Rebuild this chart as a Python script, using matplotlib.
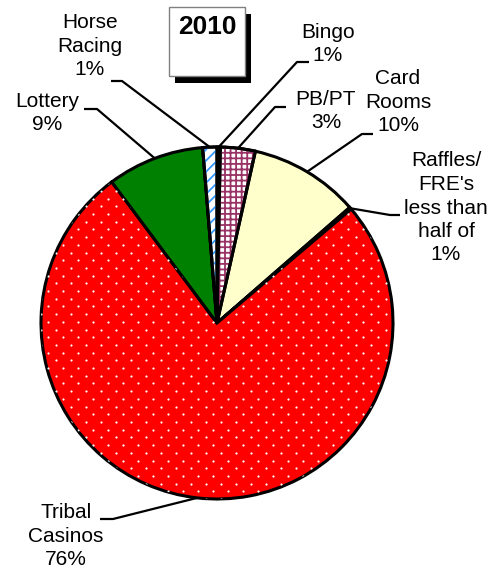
import numpy as np
import matplotlib
matplotlib.use("Agg")
import matplotlib.pyplot as plt
from matplotlib.patches import Wedge, Rectangle

plt.rcParams['font.family'] = ['Liberation Sans', 'DejaVu Sans']
plt.rcParams['hatch.linewidth'] = 1.3

# shares (percent), clockwise from 12 o'clock
names = ["Bingo", "PB/PT", "Card Rooms", "Raffles/FRE's", "Tribal Casinos", "Lottery", "Horse Racing"]
shares = [0.3, 3.2, 10.1, 0.2, 76.0, 8.9, 1.3]
labels = ["Bingo\n1%", "PB/PT\n3%", "Card\nRooms\n10%", "Raffles/\nFRE's\nless than\nhalf of\n1%",
          "Tribal\nCasinos\n76%", "Lottery\n9%", "Horse\nRacing\n1%"]
year = "2010"

fills = ["#9999ff", "white", "#ffffcc", "black", "#ff0000", "#008000", "white"]
hatches = [None, "+++", None, None, None, None, "///"]
hatch_cols = [None, "#993366", None, None, None, None, "#3399ff"]

W, H = 491, 573
def Y(y):
    return H - y

fig = plt.figure(figsize=(W / 100, H / 100), dpi=100)
ax = fig.add_axes([0, 0, 1, 1])

cx, cy, R = 217, Y(323), 176
wedges, _ = ax.pie(shares, colors=fills, startangle=90, counterclock=False,
                   center=(cx, cy), radius=R,
                   wedgeprops=dict(edgecolor='black', linewidth=2.2))
ax.set_xlim(0, W)
ax.set_ylim(0, H)
ax.set_aspect('equal')
ax.axis('off')

# hatch overlays
for w, h, hc in zip(wedges, hatches, hatch_cols):
    if h is None:
        continue
    ov = Wedge((cx, cy), R, w.theta1, w.theta2, facecolor='none',
               edgecolor=hc, linewidth=0, hatch=h, zorder=w.get_zorder() + 0.1)
    ax.add_patch(ov)
    ol = Wedge((cx, cy), R, w.theta1, w.theta2, facecolor='none',
               edgecolor='black', linewidth=2.2, zorder=w.get_zorder() + 0.2)
    ax.add_patch(ol)

# white dot texture on tribal casinos
tw = wedges[4]
gx, gy = [], []
for j, yy in enumerate(np.arange(cy - R, cy + R, 7.7)):
    off = 7.5 if j % 2 else 0
    for xx in np.arange(cx - R + off, cx + R, 15):
        gx.append(xx)
        gy.append(yy)
dots = ax.scatter(gx, gy, s=2.5, c='white', linewidths=0, zorder=tw.get_zorder() + 0.1)
dots.set_clip_path(tw)

# labels: text centre, elbow start, elbow end (pixel coords, y down)
lab_pos = [
    ((328, 44), (309, 62), (297, 62)),
    ((326, 111), (286, 107), (275, 107)),
    ((398, 102), (373, 134), (362, 134)),
    ((446, 208), (400, 215), (390, 215)),
    ((66, 536), (100, 519), (113, 519)),
    ((47, 113), (84, 109), (97, 109)),
    ((90, 46), (111, 81), (122, 81)),
]
for w, lab, (tp, e1, e2) in zip(wedges, labels, lab_pos):
    mid = np.deg2rad((w.theta1 + w.theta2) / 2)
    ax_, ay_ = cx + R * np.cos(mid), cy + R * np.sin(mid)
    ax.plot([e1[0], e2[0], ax_], [Y(e1[1]), Y(e2[1]), ay_], color='black', lw=1.6,
            solid_capstyle='butt', zorder=5)
    ax.text(tp[0], Y(tp[1]), lab, ha='center', va='center', fontsize=15,
            linespacing=1.3, zorder=6)

# year box with shadow
ax.add_patch(Rectangle((175, Y(83)), 76, 69, facecolor='black', edgecolor='none', zorder=7))
ax.add_patch(Rectangle((169, Y(76)), 76, 69, facecolor='white', edgecolor='#808080',
                       linewidth=1, zorder=8))
ax.text(207, Y(27), year, ha='center', va='center', fontsize=19, fontweight='bold', zorder=9)

fig.savefig("out.png", dpi=100, facecolor='white')
